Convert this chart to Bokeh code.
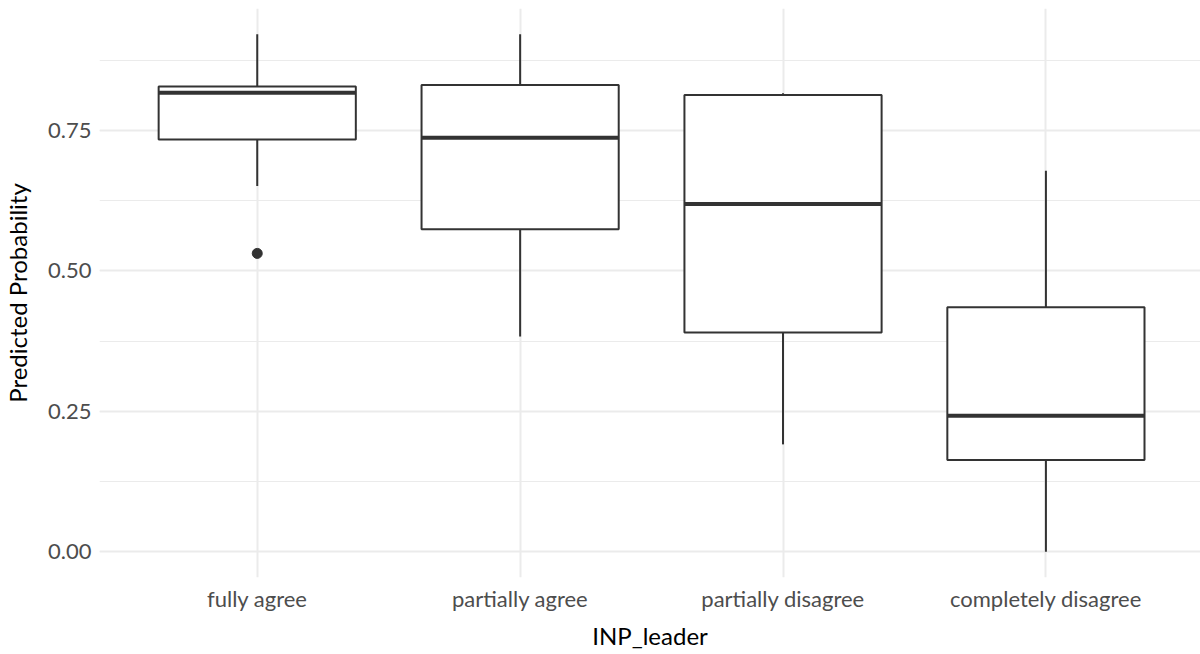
from bokeh.plotting import figure
from bokeh.models import Range1d, FixedTicker, SingleIntervalTicker, ColumnDataSource, CustomJSTickFormatter
from bokeh.embed import file_html
from bokeh.resources import INLINE

categories = ["fully agree", "partially agree", "partially disagree", "completely disagree"]
upper_whisker = [0.921, 0.921, 0.816, 0.678]
q3 = [0.828, 0.831, 0.813, 0.435]
median = [0.817, 0.737, 0.619, 0.242]
q1 = [0.734, 0.574, 0.390, 0.163]
lower_whisker = [0.651, 0.383, 0.191, 0.0]
outlier_category = ["fully agree"]
outlier_value = [0.531]

xpos = [i + 1 for i in range(len(categories))]
half = 0.375
src = ColumnDataSource(dict(
    x=xpos, left=[x - half for x in xpos], right=[x + half for x in xpos],
    uw=upper_whisker, q3=q3, med=median, q1=q1, lw=lower_whisker,
))
out_src = ColumnDataSource(dict(
    x=[categories.index(c) + 1 for c in outlier_category], y=outlier_value,
))

FONT = "Lato"
INK = "#333333"

p = figure(width=1200, height=654, output_backend="svg", toolbar_location=None,
           x_range=Range1d(0.4, 4.588), y_range=Range1d(-0.046, 0.967),
           min_border_left=98, min_border_right=0, min_border_top=8, min_border_bottom=77)
p.outline_line_color = None
p.background_fill_color = "white"
p.border_fill_color = "white"

p.xgrid.grid_line_color = "#EBEBEB"
p.xgrid.grid_line_width = 2
p.ygrid.grid_line_color = "#EBEBEB"
p.ygrid.grid_line_width = 2
p.ygrid.minor_grid_line_color = "#EBEBEB"
p.ygrid.minor_grid_line_width = 1.2

p.xaxis.ticker = FixedTicker(ticks=xpos)
p.xaxis.major_label_overrides = {x: c for x, c in zip(xpos, categories)}
p.yaxis.ticker = SingleIntervalTicker(interval=0.25, num_minor_ticks=2)
p.yaxis.formatter = CustomJSTickFormatter(code="return tick.toFixed(2);")

for ax in (p.xaxis, p.yaxis):
    ax.axis_line_color = None
    ax.major_tick_line_color = None
    ax.minor_tick_line_color = None
    ax.major_tick_out = 0
    ax.major_tick_in = 0
    ax.minor_tick_out = 0
    ax.minor_tick_in = 0
    ax.major_label_text_font = FONT
    ax.major_label_text_font_size = "22px"
    ax.major_label_text_color = "#4D4D4D"
    ax.axis_label_text_font = FONT
    ax.axis_label_text_font_size = "24px"
    ax.axis_label_text_font_style = "normal"
    ax.axis_label_text_color = "black"

p.xaxis.axis_label = "INP_leader"
p.yaxis.axis_label = "Predicted Probability"
p.xaxis.major_label_standoff = 7
p.xaxis.axis_label_standoff = 6
p.yaxis.major_label_standoff = 8
p.yaxis.axis_label_standoff = 13

p.segment(x0="x", x1="x", y0="q3", y1="uw", source=src, line_color=INK, line_width=2)
p.segment(x0="x", x1="x", y0="q1", y1="lw", source=src, line_color=INK, line_width=2)
p.quad(left="left", right="right", bottom="q1", top="q3", source=src,
       fill_color="white", line_color=INK, line_width=2)
p.segment(x0="left", x1="right", y0="med", y1="med", source=src, line_color=INK, line_width=4)
p.scatter(x="x", y="y", source=out_src, size=10, fill_color=INK, line_color=INK)

open("out.html", "w").write(file_html(p, INLINE))
